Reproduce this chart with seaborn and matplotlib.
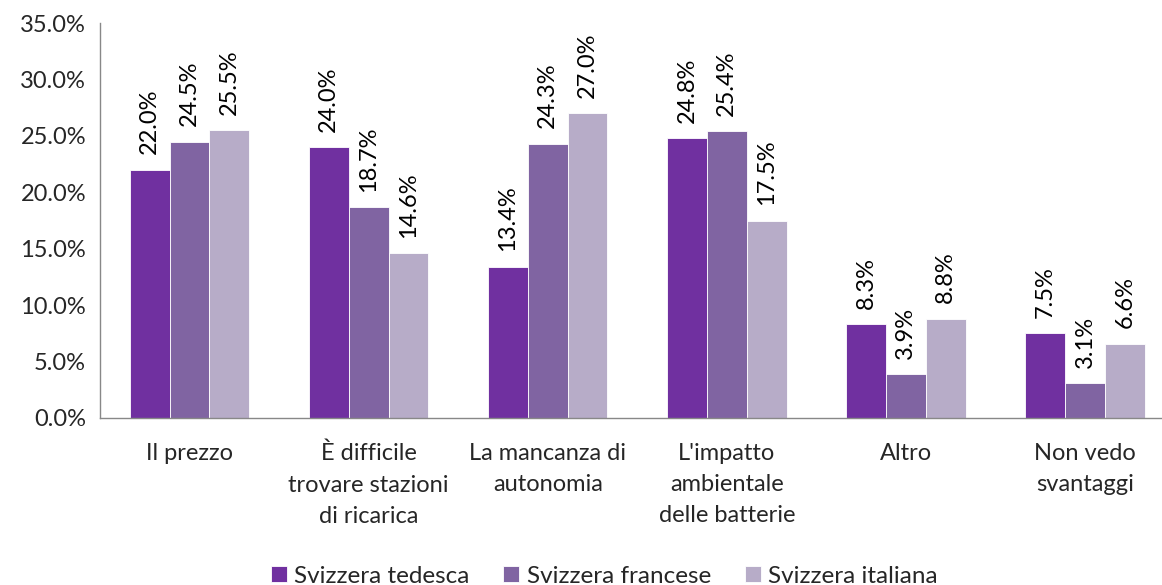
import matplotlib
matplotlib.use("Agg")
import matplotlib.pyplot as plt
import seaborn as sns
import pandas as pd
import numpy as np
from matplotlib.ticker import FuncFormatter, FixedLocator

categories = ["Il prezzo", "È difficile\ntrovare stazioni\ndi ricarica", "La mancanza di\nautonomia",
              "L'impatto\nambientale\ndelle batterie", "Altro", "Non vedo\nsvantaggi"]
series = ["Svizzera tedesca", "Svizzera francese", "Svizzera italiana"]
tedesca = [22.0, 24.0, 13.4, 24.8, 8.3, 7.5]
francese = [24.5, 18.7, 24.3, 25.4, 3.9, 3.1]
italiana = [25.5, 14.6, 27.0, 17.5, 8.8, 6.6]
colors = ["#7030A0", "#8064A2", "#B7ACC8"]

rows = []
for s, vals in zip(series, [tedesca, francese, italiana]):
    for c, v in zip(categories, vals):
        rows.append({"cat": c, "serie": s, "val": v})
df = pd.DataFrame(rows)

sns.set_style("white")
plt.rcParams['font.family'] = ['Lato', 'DejaVu Sans']
FS = 17

fig = plt.figure(figsize=(11.62, 5.85), dpi=100)
ax = fig.add_axes([100/1162, (585-418)/585, 1 - 100/1162, (418-23)/585])

sns.barplot(data=df, x="cat", y="val", hue="serie", order=categories, hue_order=series,
            palette=colors, width=0.667, gap=0, edgecolor="white", linewidth=0.6,
            ax=ax, legend=True, saturation=1)

for cont in ax.containers:
    labels = [f"{b.get_height():.1f}%" for b in cont]
    ax.bar_label(cont, labels=labels, rotation=90, padding=11, fontsize=FS, color="#000000")

ax.set_ylim(0, 35)
ax.set_xlim(-0.5, 5.43)
ax.yaxis.set_major_locator(FixedLocator(np.arange(0, 35.1, 5)))
ax.yaxis.set_major_formatter(FuncFormatter(lambda v, p: f"{v:.1f}%"))
ax.set_xlabel("")
ax.set_ylabel("")

ax.xaxis.set_minor_locator(FixedLocator(np.arange(-0.5, 6, 1)))
ax.tick_params(axis="x", which="major", length=0, pad=18, labelsize=FS)
ax.tick_params(axis="x", which="minor", length=6, width=1, color="#888888", direction="out")
ax.tick_params(axis="y", length=6, width=1, color="#888888", direction="out", labelsize=FS, pad=4)
for lab in ax.get_xticklabels():
    lab.set_linespacing(1.6)

for side in ["top", "right"]:
    ax.spines[side].set_visible(False)
for side in ["left", "bottom"]:
    ax.spines[side].set_color("#888888")
    ax.spines[side].set_linewidth(1)

handles, labels = ax.get_legend_handles_labels()
ax.get_legend().remove()
fig.legend(handles, labels, loc="lower center", bbox_to_anchor=(0.52, -0.04), ncol=3,
           frameon=False, fontsize=FS + 0.5, handlelength=0.65, handleheight=0.65,
           handletextpad=0.3, columnspacing=1.4)

fig.savefig("out.png", dpi=100)
